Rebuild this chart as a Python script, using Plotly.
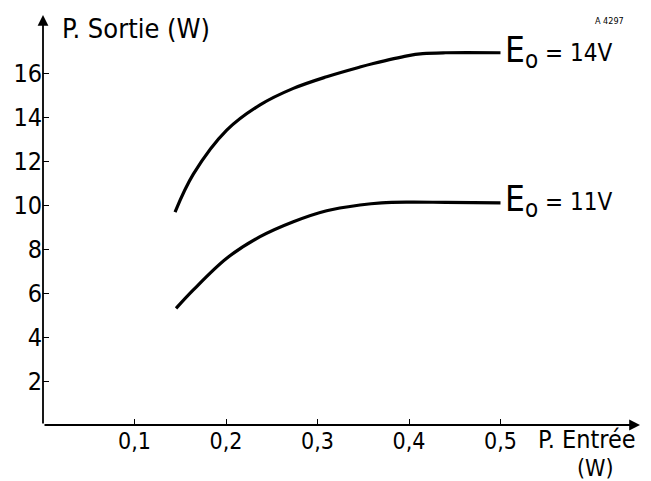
import plotly.graph_objects as go

# Data
p_in_14 = [0.1443, 0.1643, 0.2008, 0.2372, 0.2736, 0.3100, 0.3464, 0.3610, 0.3980, 0.4150, 0.4400, 0.5000]
p_out_14 = [9.68, 11.40, 13.40, 14.55, 15.30, 15.83, 16.27, 16.43, 16.78, 16.88, 16.92, 16.92]

p_in_11 = [0.1454, 0.1643, 0.2008, 0.2372, 0.2736, 0.3100, 0.3464, 0.3700, 0.4000, 0.4400, 0.5000]
p_out_11 = [5.30, 6.14, 7.58, 8.56, 9.24, 9.74, 10.00, 10.10, 10.13, 10.12, 10.10]

x_ticks = [0.1, 0.2, 0.3, 0.4, 0.5]
x_ticktext = ["0,1", "0,2", "0,3", "0,4", "0,5"]
y_ticks = [2, 4, 6, 8, 10, 12, 14, 16]

curve_labels = ["14V", "11V"]

FONT = "Liberation Sans Narrow, DejaVu Sans Condensed, Arial Narrow, sans-serif"
X_MAX = 597 / 915
Y_MAX = 410 / 22

# plot-area geometry in pixels (for placing annotations)
L, T, PW, PH = 43, 15, 597, 410


def px(xp):
    return (xp - L) / PW


def py(yp):
    return (T + PH - yp) / PH


fig = go.Figure()
for xs, ys in [(p_in_14, p_out_14), (p_in_11, p_out_11)]:
    fig.add_trace(go.Scatter(x=xs, y=ys, mode="lines",
                             line=dict(color="black", width=3.2, shape="spline", smoothing=1.0),
                             showlegend=False, hoverinfo="skip"))

fig.update_layout(
    width=651, height=481,
    margin=dict(l=L, r=651 - L - PW, t=T, b=481 - T - PH, autoexpand=False),
    paper_bgcolor="white", plot_bgcolor="white",
    font=dict(family=FONT, color="black", size=23),
    xaxis=dict(range=[0, X_MAX], showgrid=False, zeroline=False, showline=False,
               automargin=False,
               tickvals=x_ticks, ticktext=x_ticktext, ticks="inside", ticklen=6,
               tickwidth=1.2, tickcolor="black", tickfont=dict(size=23)),
    yaxis=dict(range=[0, Y_MAX], showgrid=False, zeroline=False, showline=False,
               automargin=False,
               tickvals=y_ticks, ticks="inside", ticklen=6, tickwidth=1.2,
               tickcolor="black", tickfont=dict(size=25)),
)

# Axis arrows
fig.add_annotation(x=X_MAX, y=0, ax=0, ay=0, xref="x", yref="y", axref="x", ayref="y",
                   text="", showarrow=True, arrowhead=2, arrowsize=1.2, arrowwidth=1.8,
                   arrowcolor="black")
fig.add_annotation(x=0, y=Y_MAX, ax=0, ay=0, xref="x", yref="y", axref="x", ayref="y",
                   text="", showarrow=True, arrowhead=2, arrowsize=1.2, arrowwidth=1.8,
                   arrowcolor="black")

# Texts
fig.add_annotation(x=px(60), y=py(28), xref="paper", yref="paper", text="P. Sortie (W)",
                   showarrow=False, xanchor="left", yanchor="middle", font=dict(size=27))
fig.add_annotation(x=px(609), y=py(21), xref="paper", yref="paper", text="A 4297",
                   showarrow=False, xanchor="center", yanchor="middle", font=dict(size=9))
fig.add_annotation(x=px(536), y=py(439), xref="paper", yref="paper", text="P. Entrée",
                   showarrow=False, xanchor="left", yanchor="middle", font=dict(size=25))
fig.add_annotation(x=px(595), y=py(468), xref="paper", yref="paper", text="(W)",
                   showarrow=False, xanchor="center", yanchor="middle", font=dict(size=23))

# Curve labels: E, subscript o, "= xxV"
for ycen, lab in [(50, curve_labels[0]), (199, curve_labels[1])]:
    fig.add_annotation(x=px(502.5), y=py(ycen), xref="paper", yref="paper", text="E",
                       showarrow=False, xanchor="left", yanchor="middle", font=dict(size=35))
    fig.add_annotation(x=px(523), y=py(ycen + 10), xref="paper", yref="paper", text="o",
                       showarrow=False, xanchor="left", yanchor="middle", font=dict(size=24))
    fig.add_annotation(x=px(543), y=py(ycen + 3.5), xref="paper", yref="paper", text="= " + lab,
                       showarrow=False, xanchor="left", yanchor="middle", font=dict(size=24))

fig.write_html("out.html", config={"displayModeBar": False},
               post_script="document.body.style.margin='0';")
